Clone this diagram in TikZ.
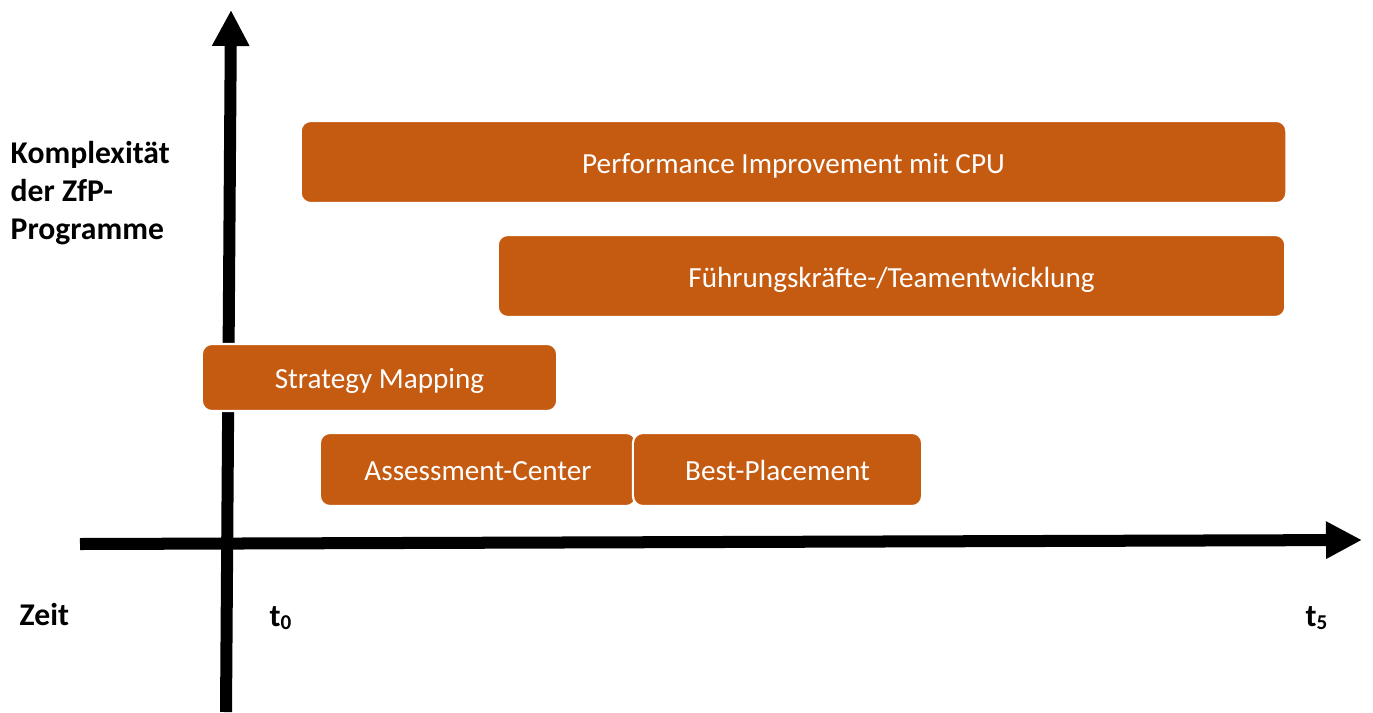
\documentclass[tikz,border=0pt]{standalone}
\usepackage{fontspec}
\setmainfont{Carlito}
\usetikzlibrary{arrows.meta}
\definecolor{zfporange}{RGB}{197,90,17}

\begin{document}
\begin{tikzpicture}[x=0.01cm,y=-0.01cm]
    \tikzstyle{phase}=[rectangle,rounded corners=0.1cm,draw=white,line width=0.6pt,fill=zfporange,text=white,inner sep=0pt,text height=0.64em,text depth=0pt,font=\fontsize{8.3}{10}\selectfont]
    \tikzstyle{axis}=[line width=0.12cm,-{Triangle[length=0.36cm,width=0.35cm]}]
    \tikzstyle{axistext}=[inner sep=0pt,font=\bfseries\fontsize{9}{10.8}\selectfont]
    \useasboundingbox (0,0) rectangle (1373,712);

        % axes
        \coordinate (x-start) at (80,544);
        \coordinate (x-end) at (1362,540);
        \coordinate (y-start) at (226,712);
        \coordinate (y-end) at (231,10);
        \draw[axis] (x-start) -- (x-end);
        \draw[axis] (y-start) -- (y-end);

        % programmes
        \node[phase,minimum width=9.85cm,minimum height=0.82cm] (perf) at (793.5,162) {Performance Improvement mit CPU};
        \node[phase,minimum width=7.87cm,minimum height=0.82cm] (fuehrung) at (891.5,276) {Führungskräfte-/Teamentwicklung};
        \node[phase,minimum width=3.55cm,minimum height=0.67cm] (strategy) at (379.5,377.5) {Strategy Mapping};
        \node[phase,minimum width=3.16cm,minimum height=0.73cm] (assessment) at (478,469.5) {Assessment-Center};
        \node[phase,minimum width=2.89cm,minimum height=0.73cm] (placement) at (777.5,469.5) {Best-Placement};

        % labels
        \node[axistext,anchor=north west,align=left] (ylabel) at (10,141) {Komplexität\\der ZfP-\\Programme};
        \node[axistext,anchor=base west] (xlabel) at (19,625) {Zeit};
        \foreach \num/\x in {0/269, 5/1305}
            \node[axistext,anchor=base west] (t-\num) at (\x,626) {t\textsubscript{\num}};
\end{tikzpicture}
\end{document}
